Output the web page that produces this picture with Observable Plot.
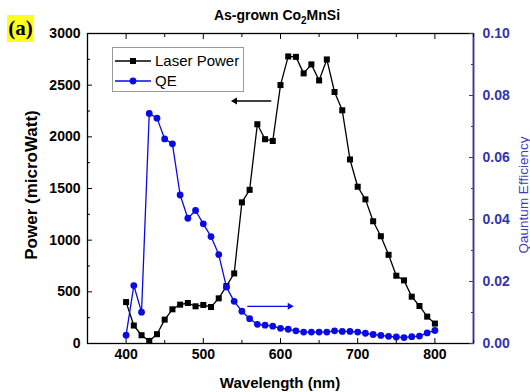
<!DOCTYPE html>
<html><head><meta charset="utf-8">
<script src="https://cdn.jsdelivr.net/npm/d3@7"></script>
<script src="https://cdn.jsdelivr.net/npm/@observablehq/plot@0.6"></script>
<style>body{margin:0;background:#fff}#chart{width:530px;height:392px}</style>
</head><body><div id="chart"></div>
<script>
// ---- data ----
const wavelength = [400,410,420,430,440,450,460,470,480,490,500,510,520,530,540,550,560,570,580,590,600,610,620,630,640,650,660,670,680,690,700,710,720,730,740,750,760,770,780,790,800];
const laserPower = [401,174,80,25,90,231,331,376,392,360,373,353,437,556,678,1366,1487,2122,1977,1960,2501,2778,2774,2614,2701,2546,2749,2434,2257,1781,1517,1395,1183,1038,858,656,611,453,363,260,193];
const qe = [0.0027,0.0187,0.0101,0.0742,0.0727,0.0660,0.0644,0.0479,0.0404,0.0429,0.0386,0.0345,0.0287,0.0182,0.0136,0.0104,0.0080,0.0062,0.0059,0.0056,0.0049,0.0046,0.0041,0.0037,0.0037,0.0037,0.0037,0.0041,0.0039,0.0039,0.0037,0.0033,0.0029,0.0026,0.0023,0.0021,0.0019,0.0022,0.0024,0.0034,0.0042];
const seriesNames = ["Laser Power", "QE"];
const xTicks = [400,500,600,700,800];
const xMinorTicks = [350,450,550,650,750,850];
const powerTicks = [0,500,1000,1500,2000,2500,3000];
const powerMinorTicks = [250,750,1250,1750,2250,2750];
const qeTicks = [0,0.02,0.04,0.06,0.08,0.10];
const qeMinorTicks = [0.01,0.03,0.05,0.07,0.09];
// annotation arrows (data units): power arrow points left, QE arrow points right
const arrowPower = {x1: 588, x2: 538, y: 2347};
const arrowQE = {x1: 557, x2: 615, y: 0.012};

const P_MAX = 3000, QE_MAX = 0.10, K = P_MAX / QE_MAX;
const BLUE = "#0a0ae6", AXBLUE = "#3434b0";
const FONT = "'Liberation Sans', Arial, sans-serif";

const rows = wavelength.map((w, i) => ({w, p: laserPower[i], q: qe[i] * K}));

const plot = Plot.plot({
  width: 530, height: 392,
  marginLeft: 87, marginRight: 57, marginTop: 33, marginBottom: 49,
  x: {domain: [350, 850]},
  y: {domain: [0, P_MAX]},
  style: {fontFamily: FONT, fontSize: "14px", color: "#000", background: "#fff"},
  marks: [
    Plot.frame({stroke: "#000", strokeWidth: 1.3}),
    Plot.ruleX([850], {stroke: AXBLUE, strokeWidth: 1.6}),
    // x axes (bottom labelled, top ticks only), ticks inside
    Plot.axisX(xTicks, {anchor: "bottom", tickSize: -5, tickPadding: 11, fontWeight: "bold", fontSize: 14, tickFormat: d => String(d), label: null}),
    Plot.axisX(xMinorTicks, {anchor: "bottom", tickSize: -3, tickFormat: () => "", label: null}),
    Plot.axisX(xTicks, {anchor: "top", tickSize: -5, tickFormat: () => "", label: null}),
    Plot.axisX(xMinorTicks, {anchor: "top", tickSize: -3, tickFormat: () => "", label: null}),
    // left axis
    Plot.axisY(powerTicks, {anchor: "left", tickSize: -5, tickPadding: 12, fontWeight: "bold", fontSize: 14, tickFormat: d => String(d), label: null}),
    Plot.axisY(powerMinorTicks, {anchor: "left", tickSize: -3, tickFormat: () => "", label: null}),
    // right axis (QE mapped onto power scale)
    Plot.axisY(qeTicks.map(d => d * K), {anchor: "right", tickSize: -5, tickPadding: 14, color: AXBLUE, fontWeight: "bold", fontSize: 14, tickFormat: d => (d / K).toFixed(2), label: null}),
    Plot.axisY(qeMinorTicks.map(d => d * K), {anchor: "right", tickSize: -3, color: AXBLUE, tickFormat: () => "", label: null}),
    // Laser power
    Plot.line(rows, {x: "w", y: "p", stroke: "#000", strokeWidth: 1.3}),
    Plot.dot(rows, {x: "w", y: "p", symbol: "square", r: 3.4, fill: "#000", stroke: null}),
    // QE
    Plot.line(rows, {x: "w", y: "q", stroke: BLUE, strokeWidth: 1.3}),
    Plot.dot(rows, {x: "w", y: "q", symbol: "circle", r: 3.4, fill: BLUE, stroke: null}),
    // arrows
    Plot.link([arrowPower], {x1: d => d.x1, x2: d => d.x2 + 5, y1: d => d.y, y2: d => d.y, stroke: "#000", strokeWidth: 1.3}),
    Plot.dot([arrowPower], {x: d => d.x2 + 3, y: d => d.y, symbol: "triangle", r: 2.6, rotate: -90, fill: "#000", stroke: null}),
    Plot.link([arrowQE], {x1: d => d.x1, x2: d => d.x2 - 5, y1: d => d.y * K, y2: d => d.y * K, stroke: BLUE, strokeWidth: 1.3}),
    Plot.dot([arrowQE], {x: d => d.x2 - 3, y: d => d.y * K, symbol: "triangle", r: 2.6, rotate: 90, fill: BLUE, stroke: null})
  ]
});
document.getElementById("chart").append(plot);

// ---- overlay text, legend ----
const svg = d3.select(plot);
const g = svg.append("g").attr("font-family", FONT).attr("text-anchor", "start");

// panel label
g.append("rect").attr("x", 7).attr("y", 15).attr("width", 27).attr("height", 27).attr("fill", "#ffff1a");
g.append("text").attr("x", 20.5).attr("y", 35).attr("text-anchor", "middle")
  .attr("font-family", "'Liberation Serif', 'Times New Roman', serif").attr("font-weight", "bold").attr("font-size", 21)
  .text("(a)");

// title
const title = g.append("text").attr("x", 277).attr("y", 20).attr("text-anchor", "middle")
  .attr("font-weight", "bold").attr("font-size", 14);
title.append("tspan").text("As-grown Co");
title.append("tspan").attr("font-size", 10).attr("dy", 4).text("2");
title.append("tspan").attr("dy", -4).text("MnSi");

// axis titles
g.append("text").attr("x", 280).attr("y", 388).attr("text-anchor", "middle")
  .attr("font-weight", "bold").attr("font-size", 15).text("Wavelength (nm)");
g.append("text").attr("transform", "translate(37,185) rotate(-90)").attr("text-anchor", "middle")
  .attr("font-weight", "bold").attr("font-size", 17).text("Power (microWatt)");
g.append("text").attr("transform", "translate(528,195) rotate(-90)").attr("text-anchor", "middle")
  .attr("font-size", 13.5).attr("fill", "#3a3ac8").text("Qauntum Efficiency");

// legend
const lg = g.append("g");
lg.append("rect").attr("x", 112.5).attr("y", 47.5).attr("width", 131).attr("height", 44)
  .attr("fill", "#fff").attr("stroke", "#9a9a9a").attr("stroke-width", 1);
const legendRows = [
  {name: seriesNames[0], color: "#000", sym: d3.symbolSquare, y: 61},
  {name: seriesNames[1], color: BLUE, sym: d3.symbolCircle, y: 81}
];
legendRows.forEach(r => {
  lg.append("line").attr("x1", 115).attr("x2", 151).attr("y1", r.y).attr("y2", r.y)
    .attr("stroke", r.color).attr("stroke-width", 1.3);
  lg.append("path").attr("d", d3.symbol(r.sym, Math.PI * 3.4 * 3.4)())
    .attr("transform", `translate(133,${r.y})`).attr("fill", r.color);
  lg.append("text").attr("x", 155).attr("y", r.y).attr("dy", "0.36em").attr("text-anchor", "start")
    .attr("font-size", 15).text(r.name);
});
</script>
</body></html>
